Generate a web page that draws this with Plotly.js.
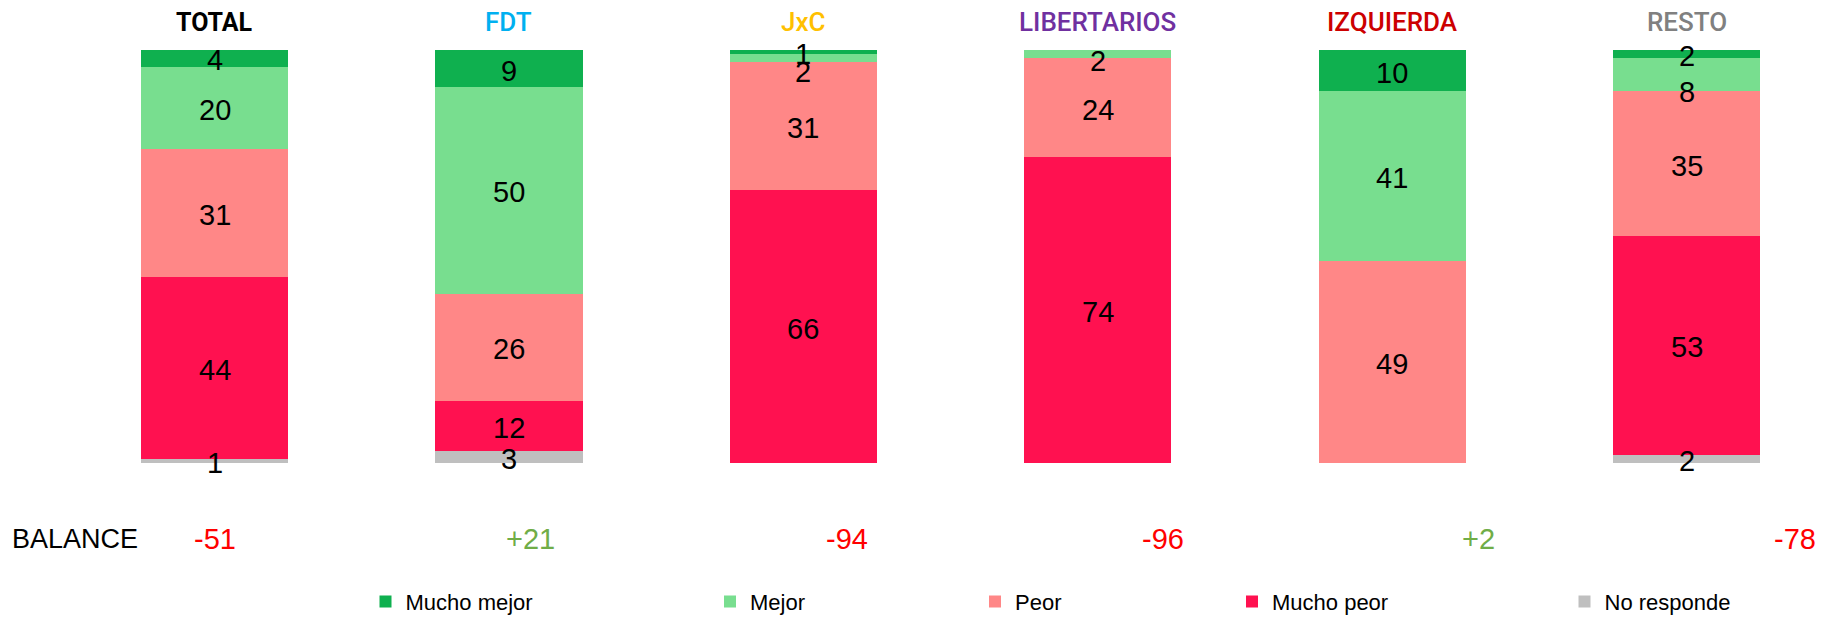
<!DOCTYPE html>
<html><head><meta charset="utf-8">
<script src="https://cdn.plot.ly/plotly-3.0.1.min.js"></script>
<style>html,body{margin:0;padding:0;background:#fff}</style>
</head><body><div id="chart" style="width:1825px;height:619px"></div>
<script>
// ---- data ----
const groups = ['TOTAL','FDT','JxC','LIBERTARIOS','IZQUIERDA','RESTO'];
const muchoMejor = [4, 9, 1, 0, 10, 2];
const mejor      = [20, 50, 2, 2, 41, 8];
const peor       = [31, 26, 31, 24, 49, 35];
const muchoPeor  = [44, 12, 66, 74, 0, 53];
const noResponde = [1, 3, 0, 0, 0, 2];
const balanceLabel = 'BALANCE';

// ---- styles ----
const groupColors = ['#000000','#00B0F0','#FFC000','#7030A0','#CC0000','#808080'];
const series = [ // bottom to top
  {name:'No responde',  values:noResponde, color:'#BFBFBF', legend:'legend5'},
  {name:'Mucho peor',   values:muchoPeor,  color:'#FF1150', legend:'legend4'},
  {name:'Peor',         values:peor,       color:'#FF8787', legend:'legend3'},
  {name:'Mejor',        values:mejor,      color:'#78DE8F', legend:'legend2'},
  {name:'Mucho mejor',  values:muchoMejor, color:'#0FB04F', legend:'legend'}
];
const labelNudge = {'JxC|Mejor': -12, 'LIBERTARIOS|Mejor': -5, 'RESTO|Mejor': -15};
const numFont = 'Liberation Sans, Arial, sans-serif';

const traces = series.map(s => ({
  type:'bar', name:s.name, x:groups, y:s.values, legend:s.legend,
  marker:{color:s.color, line:{width:0}}, hoverinfo:'skip'
}));

const annotations = [];
// segment value labels
const base = groups.map(() => 0);
series.forEach(s => {
  s.values.forEach((v, i) => {
    if (v > 0) {
      annotations.push({
        x:groups[i], y:base[i] + v/2, xref:'x', yref:'y', text:String(v),
        showarrow:false, yanchor:'middle', yshift:-2 + (labelNudge[groups[i]+'|'+s.name] || 0),
        font:{family:numFont, size:29, color:'#000'}
      });
    }
    base[i] += v;
  });
});
// group titles
groups.forEach((g, i) => {
  annotations.push({
    x:g, y:1.0677, xref:'x', yref:'paper', text:g, showarrow:false, yanchor:'middle',
    font:{family:'Roboto, Liberation Sans, Arial',
          size: i === 0 ? 25 : 26, color:groupColors[i], weight: i === 0 ? 700 : 500}
  });
});
// balance row
annotations.push({
  x:10/1825, y:-0.183, xref:'paper', yref:'paper', xanchor:'left', yanchor:'middle',
  text:balanceLabel, showarrow:false, font:{family:numFont, size:27, color:'#000'}
});
groups.forEach((g, i) => {
  const b = (muchoMejor[i] + mejor[i]) - (peor[i] + muchoPeor[i]);
  annotations.push({
    x:(214.75 + 316*i)/1825, y:-0.183, xref:'paper', yref:'paper', xanchor:'center', yanchor:'middle',
    text:(b > 0 ? '+' : '') + b, showarrow:false,
    font:{family:numFont, size:29, color: b >= 0 ? '#70AD47' : '#FF0000'}
  });
});

const legendCenters = [385.5, 730, 995, 1252, 1584.5];
const legendNames = ['legend','legend2','legend3','legend4','legend5'];
const layout = {
  width:1825, height:619,
  margin:{l:0, r:0, t:50, b:156, autoexpand:false},
  paper_bgcolor:'#fff', plot_bgcolor:'#fff',
  barmode:'stack', bargap:0.5,
  xaxis:{type:'category', range:[-214.5/294.4, (1825-214.5)/294.4], showgrid:false, zeroline:false,
         showticklabels:false, showline:false, fixedrange:true},
  yaxis:{range:[0,100], showgrid:false, zeroline:false, showticklabels:false, showline:false, fixedrange:true},
  showlegend:true,
  annotations
};
legendNames.forEach((ln, k) => {
  layout[ln] = {orientation:'h', x:(legendCenters[k]-20)/1825, xanchor:'left', y:-0.336, yanchor:'middle',
    bgcolor:'rgba(0,0,0,0)', font:{family:numFont, size:22, color:'#000'}};
});
Plotly.newPlot('chart', traces, layout, {displayModeBar:false, staticPlot:true});
</script></body></html>
